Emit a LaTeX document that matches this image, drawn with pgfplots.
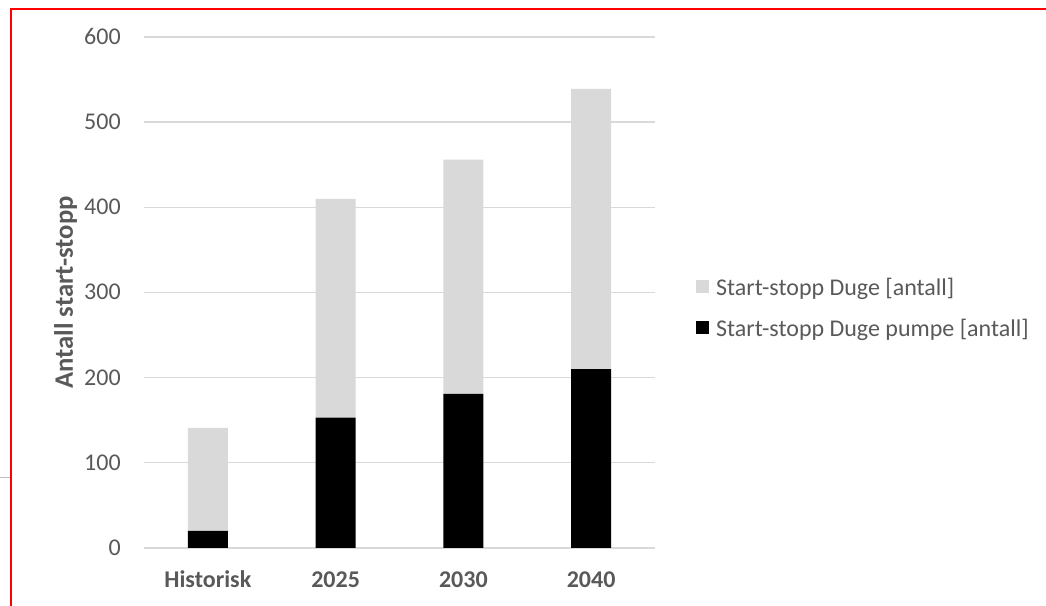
\documentclass[border=0pt]{standalone}
\usepackage{pgfplots}
\pgfplotsset{compat=1.18}
\usepackage{fontspec}
\setmainfont{Carlito}
\definecolor{txtgray}{HTML}{595959}
\definecolor{gridgray}{HTML}{D9D9D9}
\definecolor{bargray}{HTML}{D9D9D9}
\begin{document}
\fontsize{18}{21.6}\selectfont
\begin{tikzpicture}
\useasboundingbox (0,0) rectangle (784.5pt,454.5pt);
\draw[red, line width=1.5pt] (8.25pt,-2pt) -- (8.25pt,447.75pt) -- (790pt,447.75pt);
\draw[color=gray!50, line width=0.75pt] (0,96pt) -- (7.5pt,96pt);
\begin{axis}[
  at={(108pt,43.5pt)}, anchor=south west,
  width=383.25pt, height=383.25pt, scale only axis,
  ybar stacked, bar width=30pt,
  xmin=-0.5, xmax=3.5, ymin=0, ymax=600,
  enlargelimits=false,
  xtick={0,1,2,3}, xticklabels={Historisk,2025,2030,2040},
  ytick={0,100,200,300,400,500,600},
  axis line style={draw=none}, tick style={draw=none},
  ymajorgrids, major grid style={draw=gridgray, line width=1pt},
  /pgf/number format/assume math mode=true,
  every tick label/.append style={font=\fontsize{18}{21.6}\selectfont, text=txtgray},
  yticklabel style={anchor=base east, inner sep=0pt, xshift=-17.25pt, yshift=-5.6pt},
  xticklabel style={anchor=base, inner sep=0pt, yshift=-30pt, font=\fontsize{18}{21.6}\selectfont\bfseries},
  ylabel={Antall start-stopp},
  ylabel style={at={(axis description cs:-0.139,0.5)}, anchor=base, font=\fontsize{20}{24}\selectfont\bfseries, text=txtgray},
  legend style={at={(1.080,0.467)}, anchor=west, draw=none, fill=none, inner sep=0pt,
    font=\fontsize{18}{21.6}\selectfont, text=txtgray,
    nodes={text height=14pt, text depth=4pt, inner sep=0pt},
    row sep=13pt, column sep=5.25pt},
  legend cell align=left,
  reverse legend,
  legend image code/.code={\fill[#1,draw=none] (0pt,-3pt) rectangle (9.75pt,6.75pt);},
]
\addplot[fill=black, draw=none] coordinates {(0,20) (1,153) (2,181) (3,210)};
\addplot[fill=bargray, draw=none] coordinates {(0,121) (1,257) (2,275) (3,329)};
\legend{Start-stopp Duge pumpe [antall], Start-stopp Duge [antall]}
\end{axis}
\end{tikzpicture}
\end{document}
